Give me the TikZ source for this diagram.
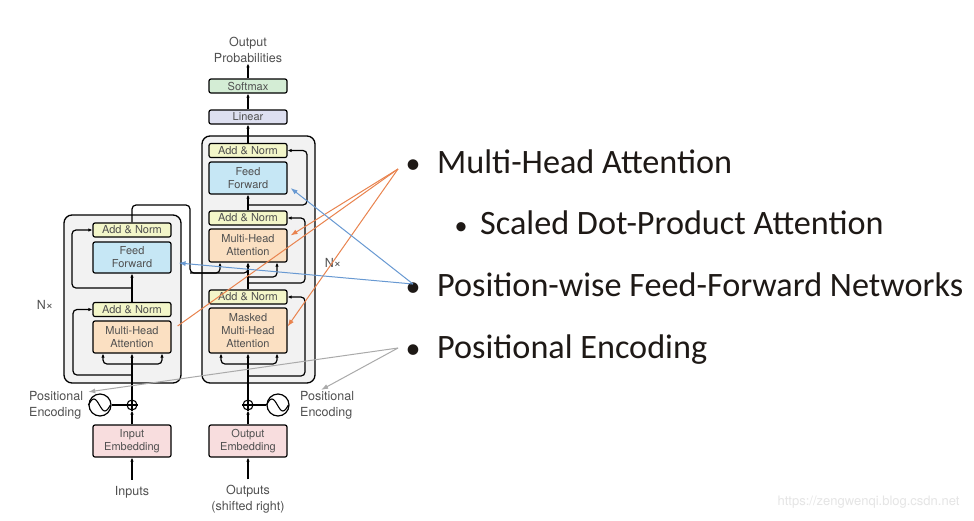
\documentclass[tikz,border=0pt]{standalone}
\usepackage{fontspec}
\newfontfamily\diafont{TeX Gyre Heros}
\newfontfamily\slidefont{Carlito}
\usetikzlibrary{arrows.meta}
\definecolor{addcol}{RGB}{243,246,201}
\definecolor{ffcol}{RGB}{198,231,245}
\definecolor{attcol}{RGB}{251,224,194}
\definecolor{embcol}{RGB}{248,221,222}
\definecolor{lincol}{RGB}{221,223,240}
\definecolor{smcol}{RGB}{212,237,213}
\definecolor{stackcol}{RGB}{242,242,242}
\definecolor{labcol}{RGB}{80,80,80}
\definecolor{orangecol}{RGB}{233,131,78}
\definecolor{bluecol}{RGB}{104,153,210}
\definecolor{graycol}{RGB}{170,170,170}
\definecolor{slidecol}{RGB}{30,25,22}

\begin{document}
\begin{tikzpicture}[x=1pt,y=-1pt,
  box/.style={draw,rounded corners=2pt,line width=1.2pt,minimum width=78,inner sep=0pt,
    font=\diafont\fontsize{11}{13}\selectfont,text=labcol,align=center},
  addnorm/.style={box,fill=addcol,minimum height=14},
  ffbox/.style={box,fill=ffcol,minimum height=31},
  attbox/.style={box,fill=attcol,minimum height=32},
  embbox/.style={box,fill=embcol,minimum height=32},
  linbox/.style={box,fill=lincol,minimum height=14},
  smbox/.style={box,fill=smcol,minimum height=14},
  stack/.style={draw,rounded corners=8pt,line width=1.3pt,fill=stackcol,inner sep=0pt},
  lab/.style={font=\diafont\fontsize{12.5}{16}\selectfont,text=labcol,align=center,inner sep=1pt},
  plus/.style={draw,circle,line width=1.1pt,minimum size=10,inner sep=0pt},
  wave/.style={draw,circle,line width=1.2pt,minimum size=22,inner sep=0pt},
  flow/.style={line width=1.2pt,rounded corners=4pt},
  tip/.style={-{Latex[length=4pt,width=3.5pt]}},
  slide/.style={font=\slidefont\fontsize{34.2}{40}\selectfont,text=slidecol,inner sep=0pt},
  annot/.style={line width=1pt,-{Latex[length=7pt,width=5pt]}}
  ]
\fill[white] (0,0) rectangle (974,520);
\useasboundingbox (0,0) rectangle (974,520);

\path (122.5,299) node[stack,minimum width=117,minimum height=168] (encstack) {}
      (258.5,259.5) node[stack,minimum width=113,minimum height=247] (decstack) {};

\path (132,230) node[addnorm] (encadd2) {Add \& Norm}
      (132,257.5) node[ffbox] (encff) {Feed\\Forward}
      (132,309.5) node[addnorm] (encadd1) {Add \& Norm}
      (132,337) node[attbox] (encatt) {Multi-Head\\Attention}
      (132,405) node[plus] (encplus) {}
      (100,405) node[wave] (encwave) {}
      (28,405) node[lab,anchor=west,align=left] (encpos) {Positional\\Encoding}
      (132,441) node[embbox] (encemb) {Input\\Embedding}
      (132,492) node[lab] (inputs) {Inputs}
      (45,305) node[lab] (encnx) {N×}
      (248,150.5) node[addnorm] (decadd3) {Add \& Norm}
      (248,178) node[ffbox,minimum height=32] (decff) {Feed\\Forward}
      (248,218) node[addnorm] (decadd2) {Add \& Norm}
      (248,245.5) node[attbox,minimum height=33] (decatt) {Multi-Head\\Attention}
      (248,297) node[addnorm] (decadd1) {Add \& Norm}
      (248,330.5) node[attbox,minimum height=45] (decmatt) {Masked\\Multi-Head\\Attention}
      (248,117) node[linbox] (linear) {Linear}
      (248,86) node[smbox] (softmax) {Softmax}
      (248,49.5) node[lab] (outprob) {Output\\Probabilities}
      (248,405) node[plus] (decplus) {}
      (278,405) node[wave] (decwave) {}
      (299,405) node[lab,anchor=west,align=left] (decpos) {Positional\\Encoding}
      (248,441) node[embbox] (decemb) {Output\\Embedding}
      (248,499.5) node[lab] (outputs) {Outputs\\(shifted right)}
      (333,263) node[lab] (decnx) {N×};

\path (413,173) node[slide,anchor=base,font=\slidefont\fontsize{30}{36}\selectfont] (b1) {•}
      (437,173) node[slide,anchor=base west] (mha) {Multi-Head Attention}
      (461,234) node[slide,anchor=base,font=\slidefont\fontsize{26}{32}\selectfont] (b2) {•}
      (480,234) node[slide,anchor=base west] (sdpa) {Scaled Dot-Product Attention}
      (413,296) node[slide,anchor=base,font=\slidefont\fontsize{30}{36}\selectfont] (b3) {•}
      (437,296) node[slide,anchor=base west] (ffn) {Position-wise Feed-Forward Networks}
      (413,358) node[slide,anchor=base,font=\slidefont\fontsize{30}{36}\selectfont] (b4) {•}
      (437,358) node[slide,anchor=base west] (pe) {Positional Encoding}
      (963,502) node[font=\diafont\fontsize{13}{15}\selectfont,text=black!10,anchor=east] (mark) {https://zengwenqi.blog.csdn.net};

\draw[line width=1.1pt] (encplus.north) -- (encplus.south) (encplus.west) -- (encplus.east);
\draw[line width=1.1pt] (decplus.north) -- (decplus.south) (decplus.west) -- (decplus.east);
\draw[line width=1.1pt] (encwave.west) sin ++(5.5,-6) cos ++(5.5,6) sin ++(5.5,6) cos ++(5.5,-6);
\draw[line width=1.1pt] (decwave.west) sin ++(5.5,-6) cos ++(5.5,6) sin ++(5.5,6) cos ++(5.5,-6);

\coordinate (encsplit) at (132,364);
\coordinate (encres1) at (132,375);
\coordinate (encres2) at (132,288);
\coordinate (encturn) at (190,205);
\coordinate (decmem) at (190,273);
\coordinate (decsplit) at (248,364);
\coordinate (decres1) at (248,376);
\coordinate (decq) at (248,277);
\coordinate (decres2) at (248,283);
\coordinate (decres3) at (248,205);

\draw[flow,tip,shorten <=5pt] (node cs:name=inputs) -- (node cs:name=encemb);
\draw[flow,tip] (node cs:name=encemb) -- (node cs:name=encplus);
\draw[flow] (node cs:name=encwave) -- (node cs:name=encplus);
\draw[flow,tip] (node cs:name=encplus) -- (node cs:name=encatt);
\draw[flow,tip] (encsplit) -| ([xshift=-29pt]encatt.south);
\draw[flow,tip] (encsplit) -| ([xshift=30pt]encatt.south);
\draw[flow,tip] (encres1) -- ++(-59,0) |- (encadd1.west);
\draw[flow,tip] (node cs:name=encadd1) -- (node cs:name=encff);
\draw[flow,tip] (encres2) -- ++(-60,0) |- (encadd2.west);
\draw[flow,tip] (encadd2.north) |- (encturn) -- (decmem) -| ([xshift=-28pt]decatt.south);
\draw[flow,tip] (decmem) -| (decatt.south);

\draw[flow,tip,shorten <=5pt] (node cs:name=outputs) -- (node cs:name=decemb);
\draw[flow,tip] (node cs:name=decemb) -- (node cs:name=decplus);
\draw[flow] (node cs:name=decwave) -- (node cs:name=decplus);
\draw[flow,tip] (node cs:name=decplus) -- (node cs:name=decmatt);
\draw[flow,tip] (decsplit) -| ([xshift=-27pt]decmatt.south);
\draw[flow,tip] (decsplit) -| ([xshift=29pt]decmatt.south);
\draw[flow,tip] (decres1) -- ++(57,0) |- (decadd1.east);
\draw[flow,tip] (node cs:name=decadd1) -- (node cs:name=decatt);
\draw[flow,tip] (decq) -| ([xshift=29pt]decatt.south);
\draw[flow,tip] (decres2) -- ++(57,0) |- (decadd2.east);
\draw[flow,tip] (node cs:name=decadd2) -- (node cs:name=decff);
\draw[flow,tip] (decres3) -- ++(59,0) |- (decadd3.east);
\draw[flow,tip] (node cs:name=decadd3) -- (node cs:name=linear);
\draw[flow,tip] (node cs:name=linear) -- (node cs:name=softmax);
\draw[flow,tip] (node cs:name=softmax) -- (node cs:name=outprob);

\coordinate (mhafrom) at (398,169);
\coordinate (ffnfrom) at (413,284);
\coordinate (pefrom) at (398,348);
\draw[annot,orangecol] (mhafrom) -- ([xshift=3pt,yshift=10pt]decatt.east);
\draw[annot,orangecol] (mhafrom) -- ([yshift=4pt]decmatt.east);
\draw[line width=1pt,orangecol] (mhafrom) -- ([xshift=6pt,yshift=11pt]encatt.east);
\draw[annot,bluecol] (ffnfrom) -- ([xshift=3pt,yshift=-10pt]decff.east);
\draw[annot,bluecol] (ffnfrom) -- ([xshift=7pt,yshift=-5.5pt]encff.east);
\draw[annot,graycol] (pefrom) -- ([xshift=4pt,yshift=-2pt]encpos.north east);
\draw[annot,graycol] (pefrom) -- ([xshift=-6pt]decpos.north);
\end{tikzpicture}
\end{document}
